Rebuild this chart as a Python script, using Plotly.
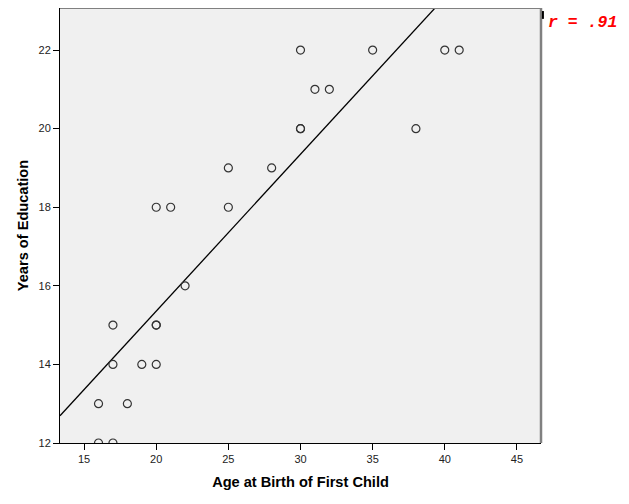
import numpy as np
import plotly.graph_objects as go

age_first_child = [16, 17, 16, 18, 17, 19, 20, 17, 20, 20, 22, 20, 21, 25, 25, 28,
                   30, 30, 38, 31, 32, 30, 35, 40, 41]
years_education = [12, 12, 13, 13, 14, 14, 14, 15, 15, 15, 16, 18, 18, 18, 19, 19,
                   20, 20, 20, 21, 21, 22, 22, 22, 22]
x_ticks = [15, 20, 25, 30, 35, 40, 45]
y_ticks = [12, 14, 16, 18, 20, 22]
x_range = [13.33, 46.67]
y_range = [12, 23.07]

slope, intercept = np.polyfit(age_first_child, years_education, 1)
line_x = [x_range[0], x_range[1]]
line_y = [intercept + slope * v for v in line_x]

fig = go.Figure()
fig.add_trace(go.Scatter(
    x=line_x, y=line_y, mode="lines",
    line=dict(color="black", width=1.3), showlegend=False, hoverinfo="skip"))
fig.add_trace(go.Scatter(
    x=age_first_child, y=years_education, mode="markers",
    marker=dict(symbol="circle-open", size=8, color="#333333", line=dict(width=1.2)),
    showlegend=False))

fig.update_layout(
    width=621, height=496,
    margin=dict(l=52, r=88, t=0, b=61),
    paper_bgcolor="white", plot_bgcolor="#F0F0F0",
    font=dict(family="Liberation Sans, Arial", size=11, color="#222222"),
    xaxis=dict(range=x_range, tickvals=x_ticks, showgrid=False, zeroline=False,
               showline=True, linecolor="black", linewidth=1, automargin=False,
               ticks="outside", ticklen=6, tickcolor="black",
               title=dict(text="<b>Age at Birth of First Child</b>",
                          font=dict(size=14.6, color="black"), standoff=12)),
    yaxis=dict(range=y_range, tickvals=y_ticks, showgrid=False, zeroline=False,
               showline=True, linecolor="black", linewidth=1, automargin=False,
               ticks="outside", ticklen=6, tickcolor="black",
               title=dict(text="<b>Years of Education</b>",
                          font=dict(size=14.6, color="black"), standoff=6)),
    shapes=[
        dict(type="line", xref="paper", yref="paper", x0=0, x1=1, y0=1, y1=1,
             line=dict(color="#808080", width=2)),
        dict(type="line", xref="paper", yref="paper", x0=1, x1=1, y0=0, y1=1,
             line=dict(color="#808080", width=2.5)),
        dict(type="line", xref="paper", yref="paper", x0=1.004, x1=1.004, y0=0.975, y1=0.993,
             line=dict(color="black", width=2)),
    ],
    annotations=[dict(
        text="r = .91", xref="paper", yref="paper", x=1.0105, y=0.966,
        xanchor="left", yanchor="middle", showarrow=False,
        font=dict(family="Liberation Mono, Courier New", size=16.5, color="red",
                  weight="bold", style="italic"))],
)

fig.write_html("out.html")
